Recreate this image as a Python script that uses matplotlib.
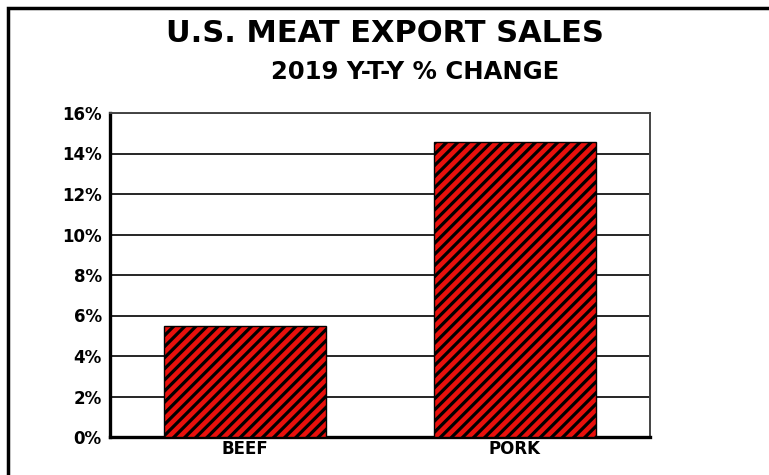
import matplotlib.pyplot as plt
from matplotlib.patches import Rectangle
from matplotlib.ticker import FuncFormatter

categories = ["BEEF", "PORK"]
values = [5.5, 14.55]
yticks = [0, 2, 4, 6, 8, 10, 12, 14, 16]

plt.rcParams['font.family'] = ['DejaVu Sans']
plt.rcParams['hatch.linewidth'] = 2.3

fig = plt.figure(figsize=(7.69, 4.75), dpi=100)
ax = fig.add_axes([110/769, 1 - 437/475, 540/769, 324/475])

bars = ax.bar(range(len(categories)), values, width=0.6, color='#e8100c',
              edgecolor='black', hatch='///', linewidth=1.0, zorder=3)

ax.set_xlim(-0.5, 1.5)
ax.set_ylim(0, 16)
ax.set_yticks(yticks)
ax.yaxis.set_major_formatter(FuncFormatter(lambda v, p: f"{v:.0f}%"))
ax.set_xticks(range(len(categories)))
ax.set_xticklabels(categories)
ax.tick_params(axis='y', length=0, labelsize=12, pad=6)
ax.tick_params(axis='x', length=0, labelsize=12, pad=2)
for lab in ax.get_xticklabels() + ax.get_yticklabels():
    lab.set_fontweight('bold')
ax.grid(axis='y', color='black', linewidth=1.2, zorder=1)

ax.spines['left'].set_linewidth(2.4)
ax.spines['bottom'].set_linewidth(2.4)
ax.spines['top'].set_color('#444444')
ax.spines['right'].set_color('#444444')
ax.spines['top'].set_linewidth(1.4)
ax.spines['right'].set_linewidth(1.4)

fig.text(385/769, 1 - 33/475, "U.S. MEAT EXPORT SALES", ha='center', va='center',
         fontsize=22, fontweight='bold')
fig.text(415/769, 1 - 72/475, "2019 Y-T-Y % CHANGE", ha='center', va='center',
         fontsize=17.5, fontweight='bold')

# outer frame (top and left edges visible)
fig.add_artist(Rectangle((8/769, -0.1), 1.2, 1 - 8/475 + 0.1, transform=fig.transFigure,
                         fill=False, edgecolor='black', linewidth=2.5))

fig.savefig("out.png", dpi=100)
